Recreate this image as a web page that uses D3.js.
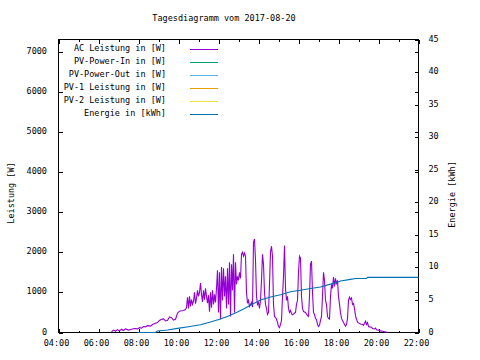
<!DOCTYPE html>
<html>
<head>
<meta charset="utf-8">
<script src="https://cdn.jsdelivr.net/npm/d3@7"></script>
<style>
  html, body { margin: 0; padding: 0; background: #fff; }
  svg { display: block; }
  text { font-family: "DejaVu Sans Mono", monospace; font-size: 8.5px; fill: #000; }
</style>
</head>
<body>
<svg id="chart" width="480" height="360"></svg>
<script>
// ---------- DATA ----------
const title = "Tagesdiagramm vom 2017-08-20";
const leftAxisTitle = "Leistung [W]";
const rightAxisTitle = "Energie [kWh]";

const seriesNames = ["AC Leistung in [W]", "PV-Power-In in [W]", "PV-Power-Out in [W]",
                     "PV-1 Leistung in [W]", "PV-2 Leistung in [W]", "Energie in [kWh]"];
const seriesColors = ["#9400d3", "#009e73", "#56b4e9", "#e69f00", "#f0e442", "#0072b2"];

const xTickLabels = ["04:00", "06:00", "08:00", "10:00", "12:00", "14:00", "16:00", "18:00", "20:00", "22:00"];
const leftTicks = [0, 1000, 2000, 3000, 4000, 5000, 6000, 7000];
const rightTicks = [0, 5, 10, 15, 20, 25, 30, 35, 40, 45];

// AC Leistung [W]
const acLeistung = [
  ["06:39",20],["06:45",60],["06:51",30],["06:57",70],["07:03",40],["07:09",80],["07:15",50],["07:21",90],
  ["07:30",60],["07:39",80],["07:48",100],["07:57",90],["08:03",120],["08:09",110],["08:15",150],["08:21",140],
  ["08:27",170],["08:36",160],["08:42",200],["08:51",230],["08:57",250],["09:03",300],["09:09",330],["09:15",340],
  ["09:21",290],["09:27",300],["09:33",390],["09:39",370],["09:45",310],["09:51",330],["09:57",480],["10:03",530],
  ["10:09",540],["10:15",550],["10:21",570],["10:24",620],["10:27",880],["10:30",600],["10:33",900],["10:36",650],
  ["10:39",820],["10:42",700],["10:45",780],["10:48",1000],["10:51",720],["10:54",850],["10:57",1050],["11:00",900],
  ["11:03",1000],["11:06",1230],["11:09",950],["11:12",760],["11:15",1050],["11:18",820],["11:21",1100],["11:24",900],
  ["11:27",730],["11:30",930],["11:33",520],["11:36",1000],["11:39",620],["11:42",1050],["11:45",700],["11:48",950],
  ["11:51",750],["11:54",1100],["11:57",1550],["12:00",500],["12:03",1500],["12:06",330],["12:09",1630],["12:12",800],
  ["12:15",1600],["12:18",900],["12:21",1400],["12:24",600],["12:27",1600],["12:30",700],["12:33",1750],["12:36",400],
  ["12:39",1700],["12:42",1050],["12:45",1950],["12:48",500],["12:51",1750],["12:54",1200],["12:57",1400],["13:00",1300],
  ["13:03",1500],["13:06",1350],["13:09",1950],["13:12",2000],["13:15",1900],["13:18",1980],["13:21",1900],["13:24",1000],
  ["13:27",730],["13:30",800],["13:33",650],["13:36",700],["13:39",750],["13:42",630],["13:45",2250],["13:48",2330],
  ["13:51",1800],["13:54",900],["13:57",700],["14:00",750],["14:03",600],["14:06",800],["14:09",1300],["14:12",1950],
  ["14:15",1700],["14:18",1000],["14:21",700],["14:24",600],["14:27",450],["14:30",500],["14:33",1200],["14:36",2000],
  ["14:39",2150],["14:42",1900],["14:45",700],["14:48",400],["14:51",380],["14:54",330],["14:57",250],["15:00",150],
  ["15:03",120],["15:06",200],["15:09",300],["15:12",900],["15:15",1400],["15:18",2170],["15:21",1100],["15:24",800],
  ["15:27",900],["15:30",600],["15:33",500],["15:36",550],["15:39",470],["15:42",440],["15:48",480],["15:51",500],
  ["15:54",700],["15:57",800],["16:00",1500],["16:03",1900],["16:06",1850],["16:09",900],["16:12",600],["16:15",520],
  ["16:21",500],["16:27",420],["16:30",400],["16:33",900],["16:36",1700],["16:39",1780],["16:42",1000],["16:45",500],
  ["16:48",450],["16:51",350],["16:54",320],["16:57",200],["17:00",150],["17:03",180],["17:06",300],["17:09",400],
  ["17:12",900],["17:15",1500],["17:18",1300],["17:21",800],["17:24",700],["17:27",400],["17:30",350],["17:33",330],
  ["17:36",900],["17:39",1200],["17:42",1100],["17:45",1380],["17:48",1150],["17:51",1350],["17:54",1200],["17:57",1300],
  ["18:00",900],["18:03",700],["18:06",500],["18:09",350],["18:12",300],["18:15",250],["18:21",160],["18:24",200],
  ["18:27",350],["18:30",800],["18:33",880],["18:36",820],["18:39",860],["18:42",700],["18:45",720],["18:48",600],
  ["18:51",420],["18:54",330],["18:57",260],["19:00",240],["19:06",210],["19:12",200],["19:15",180],["19:18",230],
  ["19:21",280],["19:24",200],["19:27",250],["19:30",150],["19:33",140],["19:39",130],["19:42",100],["19:48",90],
  ["19:51",110],["19:54",70],["20:00",60],["20:06",40],["20:12",30],["20:18",20],["20:24",10],["20:27",0]
];
const pvPowerIn = [];
const pvPowerOut = [];
const pv1Leistung = [];
const pv2Leistung = [];
// Energie [kWh]
const energie = [
  ["07:57",0],["08:51",0],["08:57",0.23],["09:27",0.38],["09:57",0.64],["10:30",0.89],["11:06",1.2],["11:36",1.61],
  ["12:06",2.07],["12:30",2.53],["12:57",3.14],["13:15",3.6],["13:36",4.2],["14:06",4.98],["14:36",5.44],["15:06",5.8],
  ["15:36",6.25],["16:06",6.5],["16:36",6.77],["17:06",7.0],["17:36",7.43],["17:57",7.74],["18:06",7.9],["18:36",8.16],
  ["18:51",8.3],["19:24",8.3],["19:27",8.46],["22:00",8.46]
];

// ---------- CHART ----------
const svg = d3.select("#chart");
const parse = d3.timeParse("%H:%M");
const L = 58.5, R = 418.5, T = 39.5, B = 332.5;

const x = d3.scaleTime().domain([parse("04:00"), parse("22:00")]).range([L, R]);
const y1 = d3.scaleLinear().domain([0, 7300]).range([B, T]);
const y2 = d3.scaleLinear().domain([0, 45]).range([B, T]);

svg.append("rect").attr("width", 480).attr("height", 360).attr("fill", "#fff");

// title
svg.append("text").attr("x", 224).attr("y", 21).attr("text-anchor", "middle").text(title);

// axes
const fmt = d3.timeFormat("%H:%M");
const majorX = xTickLabels.map(parse);
const minorX = d3.range(4, 23).map(h => parse(String(h).padStart(2, "0") + ":00"));

function styleAxis(g) {
  g.select(".domain").remove();
  g.selectAll("line").attr("stroke", "#000").attr("shape-rendering", "crispEdges");
  g.selectAll("text").style("font-family", "DejaVu Sans Mono, monospace").style("font-size", "8.5px").attr("fill", "#000");
  g.attr("font-family", null).attr("font-size", null);
}

// bottom minor + major
svg.append("g").attr("transform", `translate(0,${B})`)
  .call(d3.axisBottom(x).tickValues(minorX).tickSize(-2).tickFormat(""))
  .call(styleAxis);
const gx = svg.append("g").attr("transform", `translate(0,${B})`)
  .call(d3.axisBottom(x).tickValues(majorX).tickSize(-4).tickFormat(fmt))
  .call(styleAxis);
gx.selectAll("text").attr("y", 13.5).attr("dy", 0).attr("dx", -2.5);

// top mirrored ticks
svg.append("g").attr("transform", `translate(0,${T})`)
  .call(d3.axisTop(x).tickValues(minorX).tickSize(-2).tickFormat(""))
  .call(styleAxis);
svg.append("g").attr("transform", `translate(0,${T})`)
  .call(d3.axisTop(x).tickValues(majorX).tickSize(-4).tickFormat(""))
  .call(styleAxis);

// left axis
const gl = svg.append("g").attr("transform", `translate(${L},0)`)
  .call(d3.axisLeft(y1).tickValues(leftTicks).tickSize(-4).tickPadding(11.5).tickFormat(d3.format("d")))
  .call(styleAxis);
gl.selectAll("text").attr("dy", 0).attr("y", 1.5);

// right axis (y2) + mirrored y1 ticks
const gr = svg.append("g").attr("transform", `translate(${R},0)`)
  .call(d3.axisRight(y2).tickValues(rightTicks).tickSize(-4).tickPadding(10).tickFormat(d3.format("d")))
  .call(styleAxis);
gr.selectAll("text").attr("dy", 0).attr("y", 1.5);
svg.append("g").attr("transform", `translate(${R},0)`)
  .call(d3.axisRight(y1).tickValues(leftTicks).tickSize(-4).tickFormat(""))
  .call(styleAxis);

// frame
svg.append("rect").attr("x", L).attr("y", T).attr("width", R - L).attr("height", B - T)
  .attr("fill", "none").attr("stroke", "#000").attr("shape-rendering", "crispEdges");

// axis titles
svg.append("text").attr("transform", `translate(14,193) rotate(-90)`).attr("text-anchor", "middle").text(leftAxisTitle);
svg.append("text").attr("transform", `translate(455,194.5) rotate(-90)`).attr("text-anchor", "middle").text(rightAxisTitle);

// series lines
const line1 = d3.line().x(d => x(parse(d[0]))).y(d => y1(d[1]));
const line2 = d3.line().x(d => x(parse(d[0]))).y(d => y2(d[1]));
const seriesData = [acLeistung, pvPowerIn, pvPowerOut, pv1Leistung, pv2Leistung, energie];
seriesData.forEach((data, i) => {
  if (!data.length) return;
  svg.append("path").datum(data)
    .attr("d", i === 5 ? line2 : line1)
    .attr("fill", "none").attr("stroke", seriesColors[i]).attr("stroke-width", 1.1)
    .attr("stroke-linejoin", "miter");
});

// legend
const legendY = [49.5, 62.5, 75.5, 88.5, 101.5, 114.5];
seriesNames.forEach((name, i) => {
  svg.append("text").attr("x", 166).attr("y", legendY[i] + 1.5).attr("text-anchor", "end").text(name);
  svg.append("line").attr("x1", 190).attr("x2", 218).attr("y1", legendY[i]).attr("y2", legendY[i])
    .attr("stroke", seriesColors[i]).attr("stroke-width", 1.1).attr("shape-rendering", "crispEdges");
});
</script>
</body>
</html>
